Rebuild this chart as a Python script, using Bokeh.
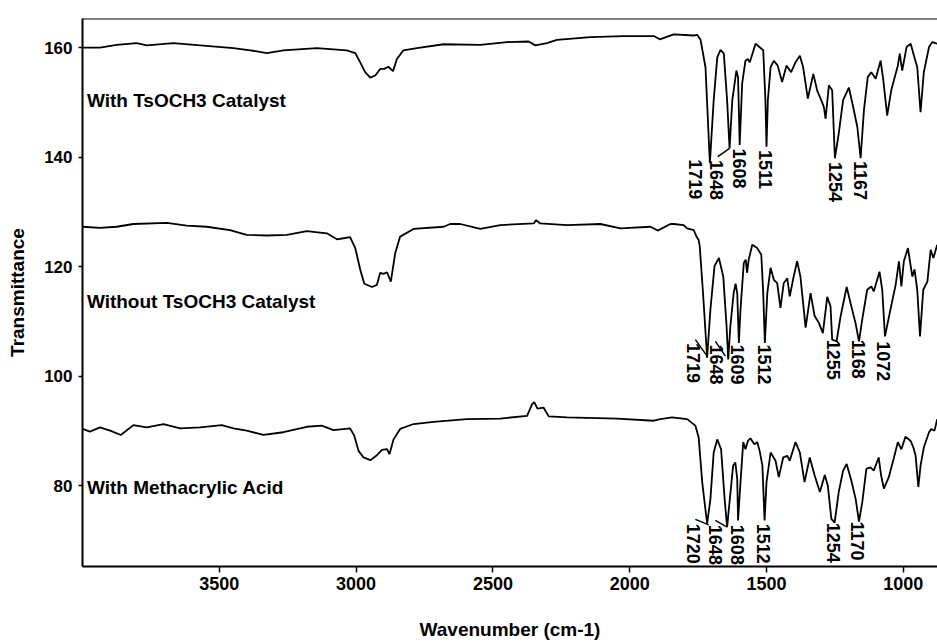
import math
from bokeh.plotting import figure
from bokeh.models import Range1d, FixedTicker, Span
from bokeh.core.properties import value
from bokeh.embed import file_html
from bokeh.resources import INLINE

# ---------------- data ----------------
x_ticks = [1000, 1500, 2000, 2500, 3000, 3500]
y_ticks = [80, 100, 120, 140, 160]

series_names = ["With TsOCH3 Catalyst", "Without TsOCH3 Catalyst", "With Methacrylic Acid"]

wn1 = [4000, 3936, 3875, 3802, 3765, 3668, 3570, 3448, 3387, 3326, 3266, 3143, 3034, 3003,
       2985, 2967, 2948, 2930, 2912, 2897, 2882, 2865, 2851, 2827, 2778, 2680, 2546, 2448,
       2369, 2345, 2302, 2266, 2144, 2022, 1912, 1890, 1839, 1766, 1753, 1741, 1723, 1707,
       1693, 1680, 1668, 1656, 1644, 1635, 1625, 1610, 1604, 1598, 1589, 1577, 1568, 1561,
       1540, 1512, 1504, 1500, 1495, 1485, 1473, 1459, 1443, 1427, 1410, 1394, 1378, 1366,
       1349, 1329, 1315, 1300, 1290, 1284, 1272, 1260, 1250, 1236, 1220, 1199, 1183, 1168,
       1156, 1144, 1130, 1117, 1101, 1083, 1073, 1059, 1044, 1020, 1013, 1004, 988, 973,
       961, 949, 937, 925, 906, 894, 876]
t1 = [160.0, 160.0, 160.5, 160.8, 160.4, 160.8, 160.4, 159.9, 159.5, 159.0, 159.5, 159.9, 159.5, 159.0,
      157.3, 155.5, 154.5, 154.9, 156.1, 156.1, 156.5, 155.7, 157.9, 159.5, 159.9, 160.6, 160.5, 161.0,
      161.1, 160.4, 160.8, 161.4, 161.9, 162.1, 162.1, 161.5, 162.4, 162.2, 162.3, 161.4, 156.4, 138.9,
      150.4, 158.2, 159.6, 158.9, 150.4, 141.6, 150.4, 155.8, 154.6, 142.2, 153.4, 157.6, 157.9, 157.3,
      160.7, 159.5, 150.4, 141.9, 150.4, 156.4, 157.6, 156.7, 153.7, 156.7, 155.5, 157.3, 158.5, 156.4,
      150.7, 155.2, 152.2, 150.4, 149.1, 147.0, 153.1, 152.2, 139.8, 144.3, 150.4, 152.7, 149.1, 145.5,
      139.8, 148.5, 154.6, 155.5, 154.3, 157.6, 154.0, 147.6, 152.2, 156.7, 158.9, 155.8, 160.1, 160.7,
      158.5, 156.4, 148.2, 155.5, 160.1, 161.0, 160.7]

wn2 = [4000, 3936, 3875, 3814, 3692, 3619, 3546, 3461, 3400, 3326, 3253, 3180, 3107, 3070, 3046,
       3022, 3003, 2985, 2970, 2942, 2924, 2912, 2900, 2887, 2873, 2857, 2839, 2790, 2680, 2656,
       2619, 2546, 2473, 2351, 2342, 2327, 2229, 2107, 2034, 1924, 1898, 1851, 1839, 1803, 1790,
       1766, 1756, 1748, 1744, 1732, 1717, 1705, 1690, 1674, 1658, 1646, 1640, 1632, 1620, 1613,
       1607, 1601, 1595, 1583, 1576, 1571, 1565, 1552, 1534, 1519, 1512, 1506, 1497, 1485, 1473,
       1461, 1449, 1437, 1424, 1415, 1402, 1388, 1376, 1357, 1339, 1324, 1309, 1294, 1278, 1266,
       1260, 1244, 1229, 1207, 1193, 1175, 1162, 1150, 1132, 1117, 1108, 1087, 1077, 1067, 1047,
       1028, 1016, 1007, 998, 983, 967, 959, 949, 939, 927, 912, 900, 890, 876]
t2 = [127.3, 127.1, 127.3, 127.8, 128.0, 127.5, 127.3, 126.7, 125.8, 125.7, 125.8, 126.5, 126.1, 125.0, 125.2,
      125.4, 123.4, 119.5, 116.9, 116.3, 116.7, 118.9, 118.7, 119.0, 117.3, 122.5, 125.5, 126.9, 127.3, 127.8,
      127.8, 126.9, 127.6, 127.9, 128.5, 127.9, 127.6, 127.8, 127.0, 127.3, 126.6, 127.8, 127.8, 127.6, 127.0,
      126.7, 125.5, 124.9, 123.7, 115.2, 103.4, 112.2, 120.1, 121.6, 118.2, 109.2, 103.1, 109.2, 115.2, 116.9,
      115.2, 106.1, 112.2, 120.7, 121.3, 118.9, 121.3, 124.0, 123.4, 122.2, 115.2, 106.1, 115.2, 119.8, 117.6,
      117.0, 112.5, 117.0, 117.9, 114.6, 117.9, 121.0, 118.2, 108.9, 115.2, 111.0, 109.8, 107.9, 114.5, 112.8,
      106.7, 106.4, 111.0, 116.3, 113.4, 109.8, 106.4, 110.4, 115.8, 116.4, 115.5, 119.1, 115.8, 107.3, 112.2,
      116.7, 121.0, 116.4, 121.0, 123.4, 118.2, 119.5, 115.8, 107.3, 115.8, 117.3, 123.1, 121.6, 124.0]

wn3 = [4000, 3973, 3936, 3899, 3860, 3814, 3765, 3704, 3643, 3570, 3491, 3448, 3400, 3339, 3266,
       3180, 3125, 3083, 3022, 3007, 2991, 2973, 2948, 2924, 2906, 2887, 2878, 2863, 2839, 2790,
       2717, 2595, 2473, 2375, 2357, 2349, 2337, 2315, 2296, 2229, 2046, 1912, 1888, 1845, 1790,
       1760, 1748, 1735, 1717, 1705, 1693, 1680, 1666, 1653, 1644, 1634, 1622, 1614, 1607, 1604,
       1595, 1585, 1577, 1568, 1559, 1544, 1534, 1525, 1515, 1507, 1500, 1485, 1467, 1455, 1439,
       1424, 1415, 1394, 1378, 1361, 1342, 1324, 1305, 1287, 1276, 1263, 1251, 1236, 1220, 1207,
       1190, 1174, 1162, 1150, 1135, 1120, 1108, 1090, 1081, 1071, 1053, 1034, 1020, 1007, 992,
       973, 963, 955, 945, 937, 925, 906, 898, 886, 876]
t3 = [90.4, 89.9, 90.7, 90.1, 89.3, 91.1, 90.7, 91.3, 90.5, 90.7, 91.1, 90.5, 90.1, 89.3, 89.8,
      90.8, 91.0, 90.2, 90.5, 89.2, 86.4, 85.2, 84.7, 85.6, 86.6, 86.7, 85.8, 88.5, 90.4, 91.3,
      91.7, 92.2, 92.3, 92.8, 94.9, 95.3, 94.1, 94.3, 92.7, 92.5, 92.3, 91.9, 92.2, 92.5, 92.2,
      91.0, 88.9, 80.7, 73.1, 77.6, 86.1, 88.5, 86.7, 77.6, 72.5, 77.6, 83.7, 84.3, 81.3, 73.7,
      80.7, 88.0, 86.7, 88.2, 88.7, 87.6, 88.0, 86.4, 83.7, 73.7, 80.7, 86.1, 84.6, 81.6, 85.2,
      85.5, 84.6, 88.0, 86.1, 80.7, 85.2, 81.9, 78.9, 82.0, 80.1, 74.0, 73.3, 78.9, 82.8, 84.0,
      81.0, 77.6, 73.5, 77.0, 83.1, 83.4, 82.8, 85.2, 81.9, 79.5, 81.6, 85.2, 88.0, 86.7, 89.0,
      88.2, 87.0, 85.5, 79.8, 83.7, 87.0, 89.8, 90.4, 90.1, 92.2]

# peak annotations: label text, anchor (top of rotated label) in data units
peaks1 = ["1719", "1648", "1608", "1511", "1254", "1167"]
peaks1_x = [1760, 1683, 1599, 1505, 1248, 1157]
peaks1_y = [139.6, 139.5, 141.6, 141.3, 139.1, 139.3]

peaks2 = ["1719", "1648", "1609", "1512", "1255", "1168", "1072"]
peaks2_x = [1767, 1683, 1606, 1507, 1255, 1164, 1072]
peaks2_y = [106.1, 105.8, 105.8, 105.8, 106.7, 106.7, 106.4]

peaks3 = ["1720", "1648", "1608", "1512", "1254", "1170"]
peaks3_x = [1767, 1687, 1606, 1511, 1255, 1168]
peaks3_y = [73.1, 72.9, 72.9, 73.1, 73.3, 73.5]

# leader lines from peak minimum to displaced label
lead_x0 = [1635, 1717, 1650, 1711, 1644]
lead_y0 = [141.6, 103.7, 103.7, 72.9, 72.5]
lead_x1 = [1678, 1760, 1687, 1760, 1687]
lead_y1 = [140.1, 106.7, 106.4, 73.9, 73.7]

# series name labels (left edge, vertical middle)
name_x = [3984, 3984, 3984]
name_y = [150.4, 113.7, 79.8]

# ---------------- figure ----------------
FONT = "Liberation Sans"

p = figure(width=937, height=642,
           x_range=Range1d(4000, 875), y_range=Range1d(65.3, 165.3),
           output_backend="svg", toolbar_location=None,
           min_border_left=82, min_border_right=0, min_border_top=18, min_border_bottom=74)
p.grid.visible = False
p.outline_line_color = None
p.background_fill_color = "white"
p.border_fill_color = "white"

for wn, t in ((wn1, t1), (wn2, t2), (wn3, t3)):
    p.line(wn, t, line_color="black", line_width=1.8)

p.segment(lead_x0, lead_y0, lead_x1, lead_y1, line_color="black", line_width=1.4)

for labels, lx, ly in ((peaks1, peaks1_x, peaks1_y), (peaks2, peaks2_x, peaks2_y), (peaks3, peaks3_x, peaks3_y)):
    p.text(x=lx, y=ly, text=labels, angle=-math.pi / 2, text_align="left", text_baseline="middle",
           text_font=value(FONT), text_font_size="18px", text_font_style="bold", text_color="black")

p.text(x=name_x, y=name_y, text=series_names, text_align="left", text_baseline="middle",
       text_font=value(FONT), text_font_size="19px", text_font_style="bold", text_color="black")

p.add_layout(Span(location=165.3, dimension="width", line_color="black", line_width=2))

# axes
xa = p.xaxis[0]
xa.ticker = FixedTicker(ticks=x_ticks)
xa.axis_label = "Wavenumber (cm-1)"
ya = p.yaxis[0]
ya.ticker = FixedTicker(ticks=y_ticks)
ya.axis_label = "Transmittance"

for ax in (xa, ya):
    ax.axis_line_color = "black"
    ax.axis_line_width = 2
    ax.major_tick_line_color = "black"
    ax.major_tick_line_width = 1.5
    ax.major_tick_in = 0
    ax.minor_tick_line_color = None
    ax.major_label_text_font = FONT
    ax.major_label_text_font_style = "bold"
    ax.major_label_text_color = "black"
    ax.axis_label_text_font = FONT
    ax.axis_label_text_font_size = "19px"
    ax.axis_label_text_font_style = "bold"
    ax.axis_label_text_color = "black"

xa.major_label_text_font_size = "18px"
ya.major_label_text_font_size = "17px"
xa.major_tick_out = 6
xa.major_label_standoff = 4
xa.axis_label_standoff = 26
ya.major_tick_out = 4
ya.major_label_standoff = 6
ya.axis_label_standoff = 13

open("out.html", "w").write(file_html(p, INLINE))
